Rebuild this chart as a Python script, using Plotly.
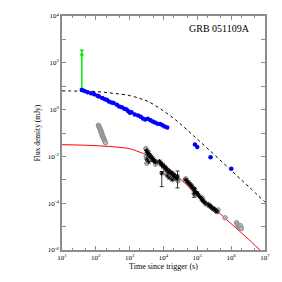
import plotly.graph_objects as go

# ---------------- data (time in s, flux density in mJy) ----------------
blue_t = [38.5, 46, 57, 72, 89, 111, 124, 155, 185, 216, 242, 289, 336, 419, 490, 585,
          698, 813, 912, 1020, 1135, 1420, 1780, 2120, 2460, 2880, 3440, 4100, 4780,
          5570, 6670, 7940, 9290, 10800, 12900, 84700, 99300, 246000, 1010000]
blue_f = [6.8, 6.2, 5.5, 5.0, 4.5, 3.95, 3.6, 3.1, 2.8, 2.6, 2.2, 2.0, 1.9, 1.6, 1.37, 1.25,
          1.1, 1.0, 0.85, 0.73, 0.77, 0.62, 0.56, 0.50, 0.42, 0.38, 0.41, 0.35, 0.31,
          0.28, 0.25, 0.24, 0.215, 0.19, 0.17, 0.0324, 0.0253, 0.0093, 0.00296]

green_t = [38.5]
green_f = [220]
green_up = [340]
green_lo = [8]

gray_t = [119, 124, 130, 136, 142, 145, 152, 155, 162, 170, 177, 185, 194,
          3010, 3070, 3210, 3440, 5850, 7620, 11350, 19300, 26900, 45700, 88800,
          141300, 184500, 408000,
          664000, 1440000, 1540000, 1645000, 1760000, 1880000, 2010000]
gray_f = [0.215, 0.187, 0.162, 0.14, 0.121, 0.105, 0.091, 0.0787, 0.068, 0.059, 0.051, 0.044, 0.038,
          0.0215, 0.01, 0.0051, 0.0162, 0.00464, 0.00562, 0.00196, 0.0011, 0.000908, 0.0011, 0.000237,
          0.000162, 9.08e-5, 5.13e-5,
          2.37e-5, 1.47e-5, 1.21e-5, 1.0e-5, 9.1e-6, 1.1e-5, 8.26e-6]

black_t = [3110, 3330, 3440, 3670, 3930, 4060, 4340, 4630, 4790, 5120, 5470, 5850, 3210, 3670,
           7620, 8150, 8710, 9290, 9930, 10600, 11350, 12130, 12970, 13850, 14800, 15820, 16900,
           18070, 19300, 20600, 22000, 23550, 25200, 12970, 14800, 18070,
           44300, 48900, 52200, 55800, 59600, 63700, 68100,
           70400, 77800, 83100, 88800, 94900, 101400, 108400, 115800, 123700, 132200, 141300,
           151000, 161400, 172500,
           210400, 224900, 240300, 256700, 274400, 293200, 313300, 334900, 357800, 382300]
black_f = [0.0178, 0.0147, 0.01155, 0.0133, 0.0110, 0.00908, 0.0100, 0.00826, 0.00681, 0.0075, 0.0062,
           0.00562, 0.0075, 0.0059,
           0.0062, 0.0051, 0.00422, 0.00464, 0.00348, 0.00383, 0.00287, 0.00316, 0.00261, 0.00215,
           0.00237, 0.00196, 0.00178, 0.00196, 0.00147, 0.00162, 0.00133, 0.00121, 0.0011, 0.00147,
           0.00121, 0.001,
           0.001, 0.000908, 0.000787, 0.00075, 0.00065, 0.00059, 0.00056,
           0.000464, 0.000383, 0.000422, 0.000316, 0.000274, 0.000261, 0.000215, 0.000196, 0.000178,
           0.000154, 0.000133, 0.000121, 0.00011, 0.0001,
           9.08e-5, 7.5e-5, 7.87e-5, 6.81e-5, 6.19e-5, 5.62e-5, 5.9e-5, 5.11e-5, 4.64e-5, 4.22e-5]

err_t = [8870, 26000, 79300]
err_f = [0.0019, 0.00143, 0.000261]
err_up = [0.00226, 0.00237, 0.000394]
err_lo = [0.00051, 0.00045, 0.000178]

dash_t = [10, 31.6, 100, 316, 1000, 2140, 3470, 8320, 25100, 75900, 288000, 1070000, 3160000, 10000000]
dash_f = [6.31, 6.17, 5.89, 5.01, 3.98, 2.88, 2.24, 1.05, 0.324, 0.0776, 0.0135, 0.00229, 5.37e-4, 1.12e-4]

red_t = [10, 95, 977, 1905, 3470, 12900, 30900, 95500, 355000, 692000, 2630000, 7080000]
red_f = [0.0316, 0.0288, 0.0214, 0.0155, 0.011, 0.00331, 0.00112, 0.000234, 5.13e-5, 2.14e-5, 3.8e-6, 1e-6]

x_ticks = [1e1, 1e2, 1e3, 1e4, 1e5, 1e6, 1e7]
x_labels = ["10<sup>1</sup>", "10<sup>2</sup>", "10<sup>3</sup>", "10<sup>4</sup>",
            "10<sup>5</sup>", "10<sup>6</sup>", "10<sup>7</sup>"]
y_ticks = [1e-6, 1e-4, 1e-2, 1e0, 1e2, 1e4]
y_labels = ["10<sup>-6</sup>", "10<sup>-4</sup>", "10<sup>-2</sup>", "10<sup>0</sup>",
            "10<sup>2</sup>", "10<sup>4</sup>"]
y_minor = [1e-5, 1e-3, 1e-1, 1e1, 1e3]
label_text = "GRB 051109A"

SERIF = "Liberation Serif"

# ---------------- figure ----------------
fig = go.Figure()

fig.add_trace(go.Scatter(x=dash_t, y=dash_f, mode="lines", line_shape="spline",
                         line=dict(color="black", width=1, dash="3px,3px"), hoverinfo="skip"))
fig.add_trace(go.Scatter(x=red_t, y=red_f, mode="lines", line_shape="spline",
                         line=dict(color="#ff0000", width=1), hoverinfo="skip"))

fig.add_trace(go.Scatter(x=gray_t, y=gray_f, mode="markers",
                         marker=dict(symbol="circle", size=4.5, color="#b4b4b4",
                                     line=dict(color="#808080", width=0.8))))

fig.add_trace(go.Scatter(x=err_t, y=err_f, mode="markers",
                         error_y=dict(type="data", symmetric=False,
                                      array=[u - f for u, f in zip(err_up, err_f)],
                                      arrayminus=[f - l for f, l in zip(err_f, err_lo)],
                                      color="#333333", thickness=1, width=2),
                         marker=dict(symbol="asterisk-open", size=4, color="black",
                                     line=dict(color="black", width=0.9))))
fig.add_trace(go.Scatter(x=black_t, y=black_f, mode="markers",
                         marker=dict(symbol="asterisk-open", size=4, color="black",
                                     line=dict(color="black", width=0.9))))

fig.add_trace(go.Scatter(x=green_t, y=green_f, mode="markers",
                         error_y=dict(type="data", symmetric=False,
                                      array=[u - f for u, f in zip(green_up, green_f)],
                                      arrayminus=[f - l for f, l in zip(green_f, green_lo)],
                                      color="#00ee00", thickness=1.5, width=2),
                         marker=dict(symbol="circle", size=3.5, color="#00ee00")))

fig.add_trace(go.Scatter(x=blue_t, y=blue_f, mode="markers",
                         marker=dict(symbol="circle", size=4.5, color="#0000ff",
                                     line=dict(width=0))))

axis_common = dict(type="log", showgrid=False, zeroline=False, showline=True,
                   linecolor="#8c8c8c", linewidth=1.5, mirror="allticks",
                   ticks="inside", tickcolor="#8c8c8c", tickwidth=1,
                   tickfont=dict(family=SERIF, size=7, color="black"))

fig.update_xaxes(**axis_common, range=[1, 7], tickmode="array", tickvals=x_ticks,
                 ticktext=x_labels, ticklen=4,
                 minor=dict(ticks="inside", ticklen=2, tickcolor="#8c8c8c", showgrid=False),
                 title=dict(text="Time since trigger (s)", standoff=2,
                            font=dict(family=SERIF, size=8, color="black")))
fig.update_yaxes(**axis_common, range=[-6, 4], tickmode="array", tickvals=y_ticks,
                 ticktext=y_labels, ticklen=4,
                 minor=dict(ticks="inside", ticklen=4, tickcolor="#8c8c8c", tickmode="array",
                            tickvals=y_minor, showgrid=False),
                 title=dict(text="Flux density (mJy)", standoff=6,
                            font=dict(family=SERIF, size=7.5, color="black")))

fig.add_annotation(x=0.935, y=0.978, xref="paper", yref="paper", text=label_text,
                   showarrow=False, xanchor="right", yanchor="top",
                   font=dict(family=SERIF, size=10, color="black"))

fig.update_layout(width=282, height=282, margin=dict(l=62, r=12, t=14, b=28),
                  paper_bgcolor="white", plot_bgcolor="white", showlegend=False)

# remove the page's default body margin so the figure sits at the window origin
fig.write_html("out.html", config={"displayModeBar": False},
               post_script="document.body.style.margin='0';document.body.style.overflow='hidden';")
